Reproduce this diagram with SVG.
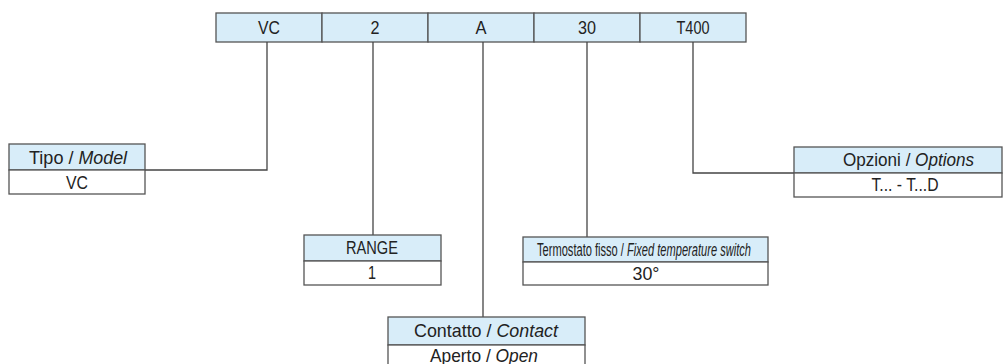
<svg xmlns="http://www.w3.org/2000/svg" width="1008" height="364" viewBox="0 0 1008 364">
<style>
.h{fill:#d8edf9;stroke:#555;stroke-width:1.3}
.v{fill:#fff;stroke:#555;stroke-width:1.3}
.c{fill:none;stroke:#444;stroke-width:1.3}
text{font-family:"Liberation Sans",Arial,sans-serif;font-size:18.5px;fill:#222;text-anchor:middle}
.s{text-anchor:start}
.i{font-style:italic;text-anchor:start}
</style>
<rect width="1008" height="364" fill="#fff"/>
<g id="code">
<rect class="h" x="216" y="13" width="106" height="29"/>
<rect class="h" x="322" y="13" width="106" height="29"/>
<rect class="h" x="428" y="13" width="106" height="29"/>
<rect class="h" x="534" y="13" width="106" height="29"/>
<rect class="h" x="640" y="13" width="106" height="29"/>
<text x="269" y="34" textLength="22" lengthAdjust="spacingAndGlyphs">VC</text>
<text x="375" y="34" textLength="9" lengthAdjust="spacingAndGlyphs">2</text>
<text x="481" y="34" textLength="11" lengthAdjust="spacingAndGlyphs">A</text>
<text x="587" y="34" textLength="18" lengthAdjust="spacingAndGlyphs">30</text>
<text x="693" y="34" textLength="33" lengthAdjust="spacingAndGlyphs">T400</text>
</g>
<g id="connectors">
<polyline class="c" points="267,42 267,170 145,170"/>
<polyline class="c" points="373,42 373,235"/>
<polyline class="c" points="483,42 483,317"/>
<polyline class="c" points="587,42 587,237"/>
<polyline class="c" points="693,42 693,173 794,173"/>
</g>
<g id="tipo">
<rect class="h" x="9" y="144" width="136" height="26"/>
<rect class="v" x="9" y="170" width="136" height="24"/>
<text class="s" x="29" y="164" textLength="44.5" lengthAdjust="spacingAndGlyphs">Tipo /</text>
<text class="i" x="78.5" y="164" textLength="48.5" lengthAdjust="spacingAndGlyphs">Model</text>
<text x="77" y="189" textLength="22" lengthAdjust="spacingAndGlyphs">VC</text>
</g>
<g id="range">
<rect class="h" x="304" y="235" width="137" height="26"/>
<rect class="v" x="304" y="261" width="137" height="24"/>
<text x="372" y="254" textLength="52" lengthAdjust="spacingAndGlyphs">RANGE</text>
<text x="372" y="279" textLength="8" lengthAdjust="spacingAndGlyphs">1</text>
</g>
<g id="contatto">
<rect class="h" x="388" y="317" width="197" height="28"/>
<rect class="v" x="388" y="345" width="197" height="24"/>
<text class="s" x="414" y="337" textLength="77.5" lengthAdjust="spacingAndGlyphs">Contatto /</text>
<text class="i" x="496.4" y="337" textLength="61.6" lengthAdjust="spacingAndGlyphs">Contact</text>
<text class="s" x="430" y="362" textLength="60.7" lengthAdjust="spacingAndGlyphs">Aperto /</text>
<text class="i" x="495.6" y="362" textLength="42.4" lengthAdjust="spacingAndGlyphs">Open</text>
</g>
<g id="termostato">
<rect class="h" x="523" y="237" width="245" height="25"/>
<rect class="v" x="523" y="262" width="245" height="23"/>
<text class="s" transform="translate(537,255.5) scale(0.6,1)">Termostato fisso / <tspan font-style="italic">Fixed temperature switch</tspan></text>
<text x="646" y="280" textLength="27" lengthAdjust="spacingAndGlyphs">30°</text>
</g>
<g id="opzioni">
<rect class="h" x="794" y="147" width="208" height="26"/>
<rect class="v" x="794" y="173" width="208" height="24"/>
<text class="s" x="843" y="166" textLength="67.4" lengthAdjust="spacingAndGlyphs">Opzioni /</text>
<text class="i" x="915.1" y="166" textLength="58.9" lengthAdjust="spacingAndGlyphs">Options</text>
<text x="905" y="191" textLength="67" lengthAdjust="spacingAndGlyphs">T... - T...D</text>
</g>
</svg>
